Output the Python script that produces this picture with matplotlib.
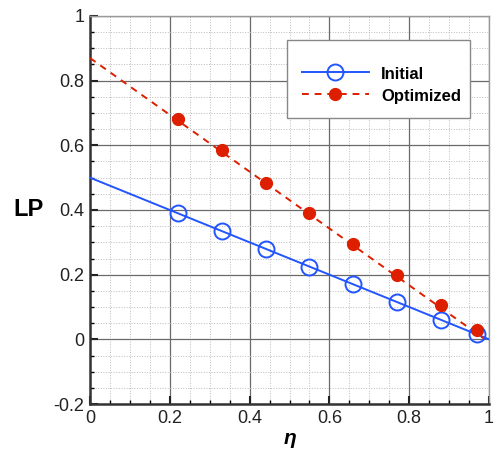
import matplotlib.pyplot as plt
from matplotlib.patches import Rectangle
from matplotlib.ticker import MultipleLocator

plt.rcParams['font.family'] = ['Liberation Sans', 'DejaVu Sans']

# 데이터
eta = [0.22, 0.33, 0.44, 0.55, 0.66, 0.77, 0.88, 0.97]
lp_initial = [0.39, 0.335, 0.28, 0.225, 0.17, 0.115, 0.06, 0.015]
lp_optimized = [0.68, 0.585, 0.485, 0.39, 0.295, 0.2, 0.105, 0.03]
# 추세선 (양 끝점)
line_x = [0.0, 1.0]
line_initial = [0.5, 0.0]
line_opt_x = [0.0, 0.99]
line_optimized = [0.87, 0.0]

blue = '#2255ff'
red = '#dd1f00'
dash = (0, (3.5, 3))

fig = plt.figure(figsize=(4.95, 4.49), dpi=100)
ax = fig.add_axes([0.1818, 0.1002, 0.8062, 0.8642])

ax.plot(line_x, line_initial, color=blue, linewidth=1.4, zorder=3)
ax.plot(line_opt_x, line_optimized, color=red, linewidth=1.4, linestyle=dash, zorder=3)
ax.plot(eta, lp_initial, linestyle='none', marker='o', markersize=11.5,
        markerfacecolor='none', markeredgecolor=blue, markeredgewidth=1.4, zorder=4)
ax.plot(eta, lp_optimized, linestyle='none', marker='o', markersize=8.5,
        color=red, zorder=4)

# 범례 박스 (테두리 따로 그림)
ax.add_patch(Rectangle((0.494, 0.737), 0.458, 0.201, transform=ax.transAxes,
                       facecolor='white', edgecolor='#888888', linewidth=1.0, zorder=5))
h1, = ax.plot([], [], color=blue, linewidth=1.4, marker='o', markersize=11.5,
              markerfacecolor='none', markeredgewidth=1.4, label='Initial')
h2, = ax.plot([], [], color=red, linewidth=1.4, linestyle=dash, marker='o',
              markersize=8.5, label='Optimized')
leg = ax.legend(handles=[h1, h2], loc='upper left', bbox_to_anchor=(0.531, 0.873),
                borderaxespad=0, borderpad=0, frameon=False,
                handlelength=4.0, handleheight=1.12, labelspacing=0.3,
                handletextpad=0.75, prop={'weight': 'bold', 'size': 12})
leg.set_zorder(6)

ax.set_xlim(0, 1)
ax.set_ylim(-0.2, 1)
ax.xaxis.set_minor_locator(MultipleLocator(0.05))
ax.yaxis.set_minor_locator(MultipleLocator(0.05))
ax.set_xticks([0, 0.2, 0.4, 0.6, 0.8, 1.0])
ax.set_yticks([-0.2, 0, 0.2, 0.4, 0.6, 0.8, 1.0])
ax.set_xticklabels(['0', '0.2', '0.4', '0.6', '0.8', '1'])
ax.set_yticklabels(['-0.2', '0', '0.2', '0.4', '0.6', '0.8', '1'])

ax.grid(which='major', color='#6a6a6a', linewidth=0.9)
ax.grid(which='minor', color='#bbbbbb', linewidth=0.7, linestyle=':')
ax.set_axisbelow(True)

ax.tick_params(which='major', direction='in', length=6, width=1.5, labelsize=13, pad=4, colors='#222222')
ax.tick_params(which='minor', direction='in', length=3, width=1.0)
ax.tick_params(top=False, right=False)

for s in ['left', 'bottom']:
    ax.spines[s].set_linewidth(1.8)
    ax.spines[s].set_color('#333333')
for s in ['top', 'right']:
    ax.spines[s].set_linewidth(1.0)
    ax.spines[s].set_color('#999999')

ax.set_xlabel('η', fontsize=15, fontweight='bold', fontstyle='italic', labelpad=2)
ax.set_ylabel('LP', fontsize=17, fontweight='bold', rotation=0, labelpad=18, va='center')

fig.savefig('out.png', dpi=100)
